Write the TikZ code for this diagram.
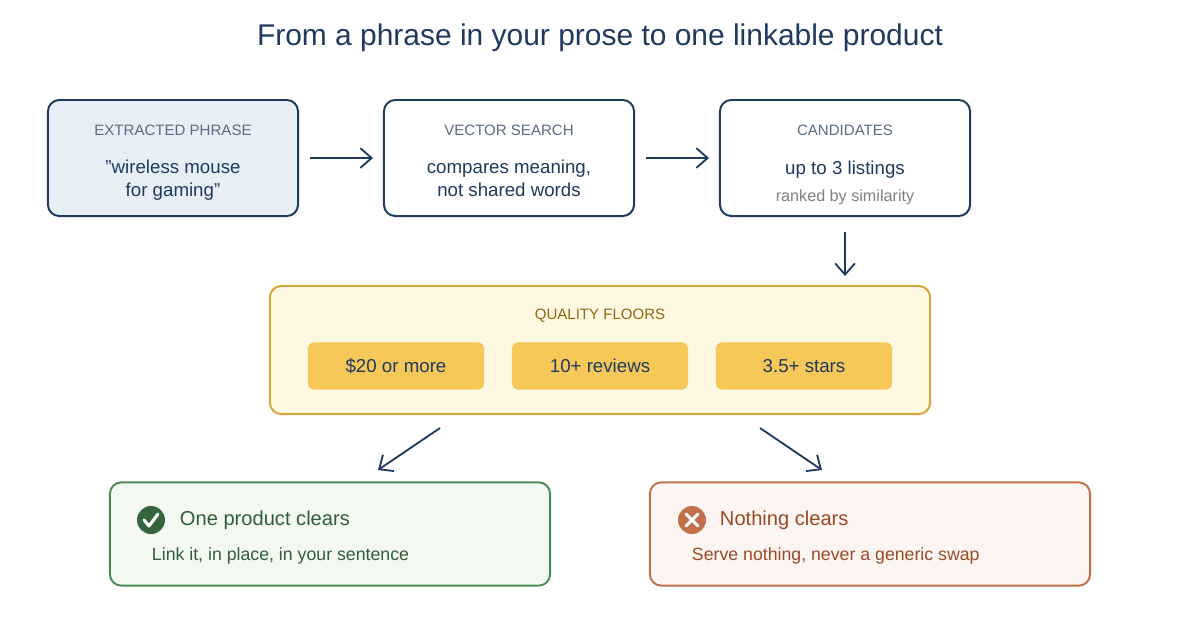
\documentclass[tikz,border=0pt]{standalone}
\usepackage{fontspec}
\setmainfont{Liberation Sans}
\usetikzlibrary{arrows.meta}
\definecolor{navy}{HTML}{1F3A5F}
\definecolor{steel}{HTML}{E8EEF5}
\definecolor{greyish}{HTML}{5A6B80}
\definecolor{gold}{HTML}{D4A537}
\definecolor{cream}{HTML}{FFF8E1}
\definecolor{pill}{HTML}{F5C858}
\definecolor{golddark}{HTML}{8A6A10}
\definecolor{leaf}{HTML}{4E8A57}
\definecolor{leafdark}{HTML}{2F5E38}
\definecolor{leafbg}{HTML}{F3F8F1}
\definecolor{rust}{HTML}{C0714A}
\definecolor{rustdark}{HTML}{9A4A25}
\definecolor{rustbg}{HTML}{FCF5F1}
\tikzset{
  stage/.style={draw=navy, line width=1.4pt, rounded corners=8pt, fill=white,
    minimum width=6.25cm, minimum height=2.9cm},
  tag/.style={font=\fontsize{10.7}{13}\selectfont, text=greyish},
  body/.style={font=\fontsize{13.3}{16.5}\selectfont, text=navy, align=center},
  chip/.style={fill=pill, rounded corners=4pt, minimum width=4.4cm,
    minimum height=1.18cm, font=\fontsize{13.3}{16}\selectfont, text=navy},
  flow/.style={-{Straight Barb[length=8pt,width=14pt]}, draw=navy, line width=1.3pt}
}
\begin{document}
\begin{tikzpicture}[x=0.025cm, y=-0.025cm]
\useasboundingbox (0,0) rectangle (1200,620);
\node[font=\fontsize{21.3}{26}\selectfont, text=navy] (title) at (600,38)
  {From a phrase in your prose to one linkable product};

% top row
\node[stage, fill=steel] (phrase) at (173,158) {};
\node[tag] at (173,130) {EXTRACTED PHRASE};
\node[body] at (173,180) {\char34 wireless mouse\\for gaming\char34};
\node[stage] (search) at (509,158) {};
\node[tag] at (509,130) {VECTOR SEARCH};
\node[body] at (509,178) {compares meaning,\\not shared words};
\node[stage] (cands) at (845,158) {};
\node[tag] at (845,130) {CANDIDATES};
\node[body] at (845,170) {up to 3 listings};
\node[tag, font=\fontsize{11.5}{14}\selectfont, text=gray] at (845,197) {ranked by similarity};

\coordinate (a1) at (310,158); \coordinate (a2) at (373,158);
\coordinate (b1) at (646,158); \coordinate (b2) at (709,158);
\draw[flow] (a1) -- (a2);
\draw[flow] (b1) -- (b2);

% quality floors
\node[draw=gold, fill=cream, line width=1.4pt, rounded corners=8pt,
  minimum width=16.5cm, minimum height=3.2cm] (floors) at (600,350) {};
\node[tag, text=golddark] at (600,316) {QUALITY FLOORS};
\node[chip] (price) at (396,366) {\$20 or more};
\node[chip] (reviews) at (600,366) {10+ reviews};
\node[chip] (stars) at (804,366) {3.5+ stars};
\coordinate (c1) at (845,232); \coordinate (c2) at (845,276);
\draw[flow] (c1) -- (c2);

% outcomes
\node[draw=leaf, fill=leafbg, line width=1.4pt, rounded corners=8pt,
  minimum width=11cm, minimum height=2.58cm] (clears) at (330,534) {};
\fill[leafdark!85!leaf] (151,520) circle[radius=14];
\draw[white, line width=2.2pt, line cap=round, line join=round]
  (144,520) -- (149,526) -- (158,514);
\node[anchor=west, font=\fontsize{14.3}{17}\selectfont, text=leafdark] at (175,520)
  {One product clears};
\node[anchor=west, font=\fontsize{12.6}{15}\selectfont, text=leafdark] at (147,556)
  {Link it, in place, in your sentence};

\node[draw=rust, fill=rustbg, line width=1.4pt, rounded corners=8pt,
  minimum width=11cm, minimum height=2.58cm] (fails) at (870,534) {};
\fill[rust] (692,520) circle[radius=14];
\draw[white, line width=2.2pt, line cap=round]
  (686,514) -- (698,526) (698,514) -- (686,526);
\node[anchor=west, font=\fontsize{14.3}{17}\selectfont, text=rustdark] at (715,520)
  {Nothing clears};
\node[anchor=west, font=\fontsize{12.6}{15}\selectfont, text=rustdark] at (687,556)
  {Serve nothing, never a generic swap};

\coordinate (d1) at (440,428); \coordinate (d2) at (378,470);
\coordinate (e1) at (760,428); \coordinate (e2) at (822,470);
\draw[flow] (d1) -- (d2);
\draw[flow] (e1) -- (e2);
\end{tikzpicture}
\end{document}
